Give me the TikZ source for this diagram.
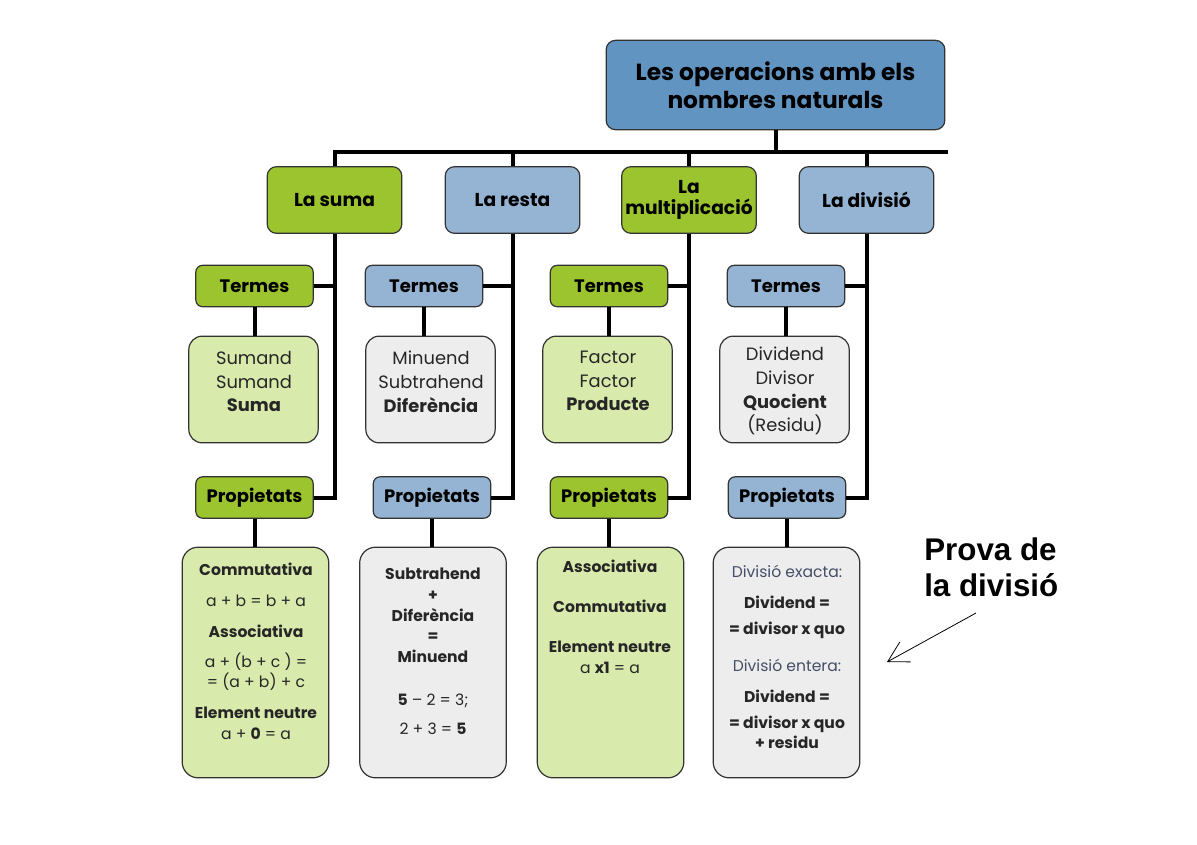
\documentclass[tikz,border=0pt]{standalone}
\usepackage{fontspec}
\setmainfont{Poppins}
\newfontfamily\arialfont{Liberation Sans}
\usetikzlibrary{arrows.meta}
\definecolor{topblue}{HTML}{6194C1}
\definecolor{catblue}{HTML}{95B3D2}
\definecolor{catgreen}{HTML}{9CC42F}
\definecolor{palegreen}{HTML}{D8EAAC}
\definecolor{palegray}{HTML}{EDEDED}
\definecolor{edge}{HTML}{333333}
\definecolor{txtgray}{HTML}{262626}
\definecolor{txtblue}{HTML}{444E68}

\begin{document}
\begin{tikzpicture}[x=0.75pt,y=0.75pt,yscale=-1,
  box/.style={draw=edge, line width=0.9pt, rounded corners=7pt, inner sep=0pt, align=center},
  topbox/.style={box, fill=topblue, minimum width=254pt, minimum height=67pt, font=\fontsize{17.5}{21}\selectfont\bfseries},
  catbox/.style={box, minimum width=101pt, minimum height=50pt, font=\fontsize{14}{15.5}\selectfont\bfseries},
  headbox/.style={box, rounded corners=5pt, minimum width=88pt, minimum height=31pt, font=\fontsize{13.5}{15}\selectfont\bfseries},
  termbox/.style={box, rounded corners=10pt, minimum width=97pt, minimum height=80pt},
  propbox/.style={box, rounded corners=12pt, minimum width=110pt, minimum height=173pt},
  termtext/.style={align=center, inner sep=0pt, anchor=north, text=txtgray, font=\fontsize{13.4}{17.7}\selectfont},
  proptext/.style={align=center, inner sep=0pt, anchor=north, text=txtgray, font=\fontsize{11.7}{15.5}\selectfont},
  conn/.style={line width=3pt}]
\useasboundingbox (0,0) rectangle (1197,844);

%Shape: title
\node[topbox] (top) at (775.5,85) {Les operacions amb els\\nombres naturals};

%Shape: operations
\node[catbox, fill=catgreen] (suma) at (334.5,200) {La suma};
\node[catbox, fill=catblue] (resta) at (512.5,200) {La resta};
\node[catbox, fill=catgreen] (mult) at (689,200) {La\\multiplicació};
\node[catbox, fill=catblue] (div) at (866.5,200) {La divisió};

%Shape: terms headers
\node[headbox, fill=catgreen] (tsuma) at (254.5,286) {Termes};
\node[headbox, fill=catblue] (tresta) at (424,286) {Termes};
\node[headbox, fill=catgreen] (tmult) at (609,286) {Termes};
\node[headbox, fill=catblue] (tdiv) at (786,286) {Termes};

%Shape: property headers
\node[headbox, fill=catgreen] (psuma) at (254.5,497.5) {Propietats};
\node[headbox, fill=catblue] (presta) at (432,497.5) {Propietats};
\node[headbox, fill=catgreen] (pmult) at (609,497.5) {Propietats};
\node[headbox, fill=catblue] (pdiv) at (787,497.5) {Propietats};

%Shape: terms boxes
\node[termbox, fill=palegreen] (csuma) at (253.5,389.5) {};
\node[termbox, fill=palegray] (cresta) at (430.5,389.5) {};
\node[termbox, fill=palegreen] (cmult) at (607.5,389.5) {};
\node[termbox, fill=palegray] (cdiv) at (784.5,389.5) {};

%Shape: property boxes
\node[propbox, fill=palegreen] (bsuma) at (255.5,662.5) {};
\node[propbox, fill=palegray] (bresta) at (433,662.5) {};
\node[propbox, fill=palegreen] (bmult) at (610.5,662.5) {};
\node[propbox, fill=palegray] (bdiv) at (786.5,662.5) {};

% Text Node
\node[termtext] (xsuma) at (254,351) {Sumand\\Sumand\\\textbf{Suma}};
\node[termtext] (xresta) at (431,351) {Minuend\\Subtrahend\\\textbf{Diferència}};
\node[termtext] (xmult) at (608,351) {Factor\\Factor\\\textbf{Producte}};
\node[termtext] (xdiv) at (785,347) {Dividend\\Divisor\\\textbf{Quocient}\\(Residu)};

% Text Node
\node[proptext] (ysuma) at (256,563) {\textbf{Commutativa}\\[7.5pt]
  a + b = b + a\\[7.5pt]\textbf{Associativa}\\[7pt]a + (b + c ) =\\= (a + b) + c\\[7.5pt]
  \textbf{Element neutre}\\a + \textbf{0} = a};
\node[proptext] (yresta) at (433,568) {\textbf{Subtrahend}\\\textbf{+}\\\textbf{Diferència}\\
  \textbf{=}\\\textbf{Minuend}\\[16.5pt]\textbf{5} -- 2 = 3;\\[6.5pt]2 + 3 = \textbf{5}};
\node[proptext] (ymult) at (610,560) {\textbf{Associativa}\\[14.5pt]\textbf{Commutativa}\\[14.5pt]
  \textbf{Element neutre}\\a \textbf{x1} = a};
\node[proptext] (ydiv) at (787,565) {\textcolor{txtblue}{Divisió exacta:}\\[7.5pt]\textbf{Dividend =}\\[4pt]
  \textbf{= divisor x quo}\\[12.5pt]\textcolor{txtblue}{Divisió entera:}\\[7.5pt]\textbf{Dividend =}\\[4pt]
  \textbf{= divisor x quo}\\\textbf{+ residu}};

% Text Node
\node[align=left, inner sep=0pt, anchor=north west, font=\arialfont\fontsize{23.5}{26.5}\selectfont\bfseries] (prova) at (924,538) {Prova de\\la divisió};
\coordinate (arrfrom) at (976,613);
\coordinate (arrto) at (887,662);
\draw[line width=0.6pt, -{Straight Barb[length=15pt, width=17pt, line width=0.6pt]}] (arrfrom) -- (arrto);

%Straight Lines: tree
\coordinate (bar) at (948,152);
\draw[conn] (top.south) -- (top.south |- bar);
\draw[conn] (suma.north) |- (bar);
\draw[conn] (resta.north) -- (resta.north |- bar);
\draw[conn] (mult.north) -- (mult.north |- bar);
\draw[conn] (div.north) -- (div.north |- bar);

\draw[conn] (suma.south) |- (psuma.east);
\draw[conn] (resta.south) |- (presta.east);
\draw[conn] (mult.south) |- (pmult.east);
\draw[conn] (div.south) |- (pdiv.east);

\draw[conn] (tsuma.east) -- (tsuma.east -| suma.south);
\draw[conn] (tresta.east) -- (tresta.east -| resta.south);
\draw[conn] (tmult.east) -- (tmult.east -| mult.south);
\draw[conn] (tdiv.east) -- (tdiv.east -| div.south);

\draw[conn] (tsuma.south) -- (tsuma.south |- csuma.north);
\draw[conn] (tresta.south) -- (tresta.south |- cresta.north);
\draw[conn] (tmult.south) -- (tmult.south |- cmult.north);
\draw[conn] (tdiv.south) -- (tdiv.south |- cdiv.north);

\draw[conn] (psuma.south) -- (psuma.south |- bsuma.north);
\draw[conn] (presta.south) -- (presta.south |- bresta.north);
\draw[conn] (pmult.south) -- (pmult.south |- bmult.north);
\draw[conn] (pdiv.south) -- (pdiv.south |- bdiv.north);

\end{tikzpicture}
\end{document}
